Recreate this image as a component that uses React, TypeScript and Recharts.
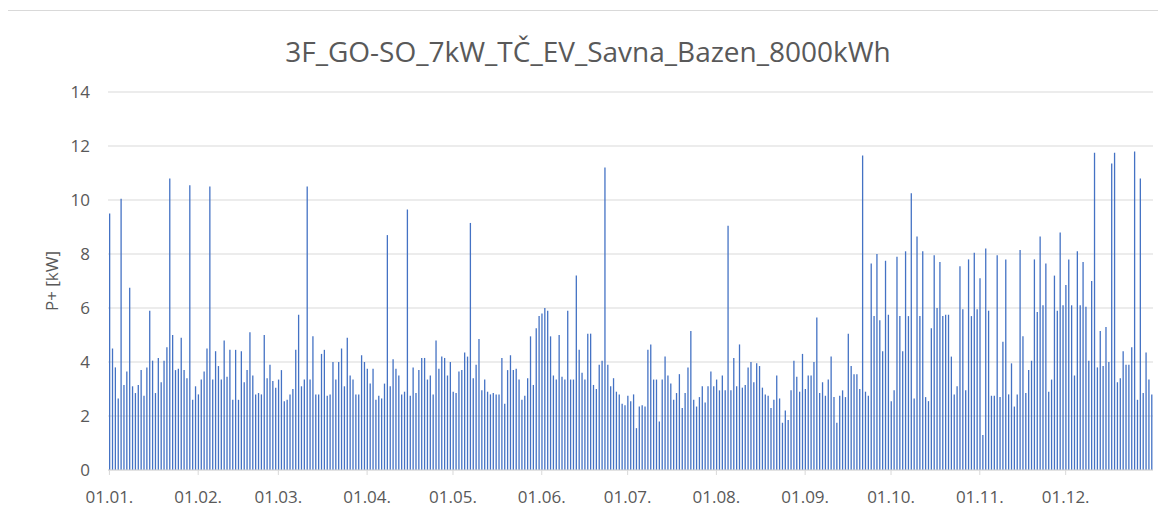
import { BarChart, Bar, XAxis, YAxis, CartesianGrid } from 'recharts'

const title = '3F_GO-SO_7kW_TČ_EV_Savna_Bazen_8000kWh'
const yLabel = 'P+ [kW]'

const monthDays = [31, 28, 31, 30, 31, 30, 31, 31, 30, 31, 30, 31]
const monthTicks = [
  '01.01.', '01.02.', '01.03.', '01.04.', '01.05.', '01.06.',
  '01.07.', '01.08.', '01.09.', '01.10.', '01.11.', '01.12.',
]
const yTicks = [0, 2, 4, 6, 8, 10, 12, 14]

// daily peak power [kW], one array per month
const jan = [9.5, 4.5, 3.8, 2.65, 10.05, 3.15, 3.65, 6.75, 3.1, 2.85, 3.15, 3.7, 2.75, 3.8, 5.9, 4.05, 2.85, 4.15, 3.25, 4.05, 4.55, 10.8, 5.0, 3.7, 3.75, 4.9, 3.7, 3.4, 10.55, 2.6, 3.1]
const feb = [2.8, 3.35, 3.65, 4.5, 10.5, 3.35, 4.4, 3.85, 3.35, 4.8, 3.45, 4.45, 2.6, 4.45, 2.6, 4.4, 3.25, 3.7, 5.1, 3.5, 2.8, 2.85, 2.8, 5.0, 3.4, 3.9, 3.3, 3.05]
const mar = [3.35, 3.7, 2.55, 2.6, 2.8, 3.0, 4.45, 5.75, 3.1, 3.35, 10.5, 3.35, 4.95, 2.8, 2.8, 4.3, 4.45, 2.75, 2.8, 4.0, 3.35, 4.0, 4.5, 3.1, 4.9, 3.5, 3.35, 2.8, 2.8, 4.25, 4.0]
const apr = [3.75, 3.2, 3.75, 2.6, 2.75, 2.65, 3.2, 8.7, 3.1, 4.1, 3.75, 3.5, 2.8, 2.9, 9.65, 2.75, 3.8, 2.85, 3.7, 4.15, 4.15, 3.35, 3.5, 2.8, 4.8, 3.75, 4.2, 4.15, 3.5, 4.0]
const may = [2.9, 2.85, 3.65, 3.7, 4.35, 4.2, 9.15, 3.4, 3.9, 4.85, 2.95, 3.35, 2.9, 2.8, 2.85, 2.8, 2.8, 4.15, 2.45, 3.7, 4.25, 3.7, 3.75, 3.35, 2.6, 2.75, 3.4, 4.95, 3.15, 5.25, 5.7]
const jun = [5.8, 6.0, 5.9, 4.95, 3.5, 3.35, 5.0, 3.45, 3.35, 5.9, 3.35, 3.35, 7.2, 4.45, 3.6, 3.35, 5.05, 5.05, 3.15, 3.0, 3.9, 4.05, 11.2, 3.9, 3.1, 3.4, 2.9, 2.8, 2.45, 2.4]
const jul = [2.75, 2.55, 2.8, 1.55, 2.35, 2.4, 2.35, 4.45, 4.65, 3.35, 3.35, 1.8, 3.35, 4.2, 3.5, 3.2, 2.6, 2.85, 3.55, 2.3, 2.85, 3.8, 5.15, 2.6, 2.35, 2.7, 3.1, 2.5, 3.1, 3.65, 3.1]
const aug = [3.35, 2.95, 3.5, 2.95, 9.05, 2.95, 4.15, 3.1, 4.65, 3.05, 3.15, 3.8, 4.0, 3.25, 3.95, 3.85, 3.05, 2.8, 2.75, 2.3, 2.6, 3.5, 2.65, 1.75, 2.2, 1.85, 2.95, 4.05, 3.45, 2.9, 4.3]
const sep = [3.0, 3.5, 3.5, 4.0, 5.65, 2.85, 3.25, 2.75, 3.35, 4.2, 2.7, 1.75, 2.75, 2.95, 2.7, 5.05, 3.85, 3.55, 3.55, 3.0, 11.65, 2.9, 2.75, 7.65, 5.7, 8.0, 5.55, 4.4, 7.75, 5.75]
const oct = [2.55, 2.95, 7.9, 5.7, 4.4, 8.1, 5.7, 10.25, 2.65, 8.65, 5.7, 8.1, 2.7, 2.55, 5.25, 7.95, 6.0, 7.7, 5.7, 5.75, 5.75, 4.2, 2.8, 3.1, 7.55, 5.95, 2.95, 7.8, 5.7, 8.05, 5.95]
const nov = [7.1, 1.3, 8.2, 5.9, 2.75, 2.75, 7.95, 2.7, 4.75, 7.8, 2.8, 3.95, 2.35, 2.8, 8.15, 4.95, 2.85, 3.7, 4.05, 7.8, 5.85, 8.65, 6.1, 7.65, 2.9, 3.35, 7.2, 5.9, 8.8, 6.1]
const dec = [6.85, 7.8, 6.1, 3.5, 8.1, 6.1, 7.7, 6.05, 4.05, 7.0, 11.75, 3.8, 5.15, 3.85, 5.3, 4.0, 11.35, 11.75, 3.25, 3.4, 4.4, 3.9, 3.9, 4.55, 11.8, 2.6, 10.8, 2.85, 4.35, 3.35, 2.8]

const months = [jan, feb, mar, apr, may, jun, jul, aug, sep, oct, nov, dec]

const data = months.flatMap((vals, m) =>
  vals.slice(0, monthDays[m]).map((p, d) => ({
    day: `${String(d + 1).padStart(2, '0')}.${String(m + 1).padStart(2, '0')}.`,
    p,
  }))
)

const font = '"Open Sans", sans-serif'
const textColor = '#595959'
const gridColor = '#d9d9d9'

const MonthTick = (props: any) => {
  const { x, y, payload } = props
  if (!monthTicks.includes(payload.value)) return <g />
  return (
    <g>
      <line x1={x} x2={x} y1={y} y2={y + 5} stroke={gridColor} />
      <text x={x} y={y + 33} textAnchor="middle" fill={textColor} fontSize={17} fontFamily={font}>
        {payload.value}
      </text>
    </g>
  )
}

export default function App() {
  return (
    <div
      style={{
        position: 'relative',
        width: 1153,
        height: 520,
        margin: '2px 0 0 -1px',
        border: `1px solid ${gridColor}`,
        boxSizing: 'border-box',
        background: '#fff',
        fontFamily: font,
      }}
    >
      <BarChart
        width={1150}
        height={505}
        data={data}
        margin={{ top: 81, right: 5, bottom: 0, left: 40 }}
        barCategoryGap={0}
      >
        <CartesianGrid vertical={false} stroke={gridColor} strokeWidth={1} />
        <XAxis
          dataKey="day"
          interval={0}
          height={46}
          tickSize={0}
          tickMargin={0}
          tickLine={false}
          axisLine={{ stroke: gridColor }}
          tick={<MonthTick />}
        />
        <YAxis
          domain={[0, 14]}
          ticks={yTicks}
          width={60}
          axisLine={false}
          tickLine={false}
          tickSize={6}
          tickMargin={12}
          tick={{ fill: textColor, fontSize: 17, fontFamily: font }}
        />
        <Bar dataKey="p" fill="#4472C4" barSize={1.3} isAnimationActive={false} />
      </BarChart>
      <svg
        width={1150}
        height={505}
        style={{ position: 'absolute', left: 0, top: 0, pointerEvents: 'none' }}
      >
        <text x={580} y={51} textAnchor="middle" fill={textColor} fontSize={28} fontFamily={font}>
          {title}
        </text>
        <text
          transform="translate(50,270) rotate(-90)"
          textAnchor="middle"
          fill={textColor}
          fontSize={17}
          fontFamily={font}
        >
          {yLabel}
        </text>
      </svg>
    </div>
  )
}
